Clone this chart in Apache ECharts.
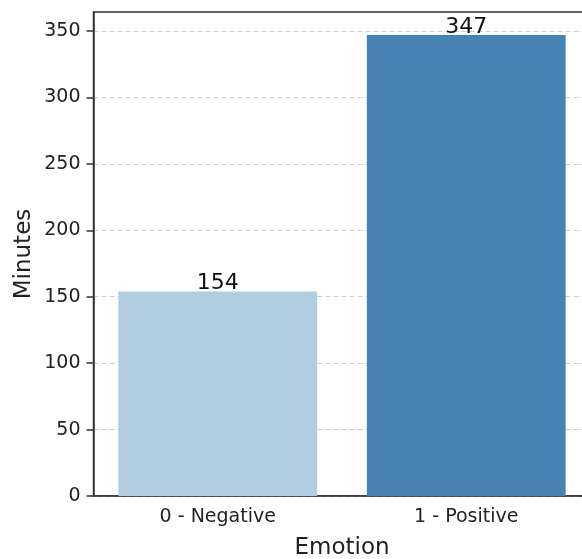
<!DOCTYPE html>
<html>
<head>
<meta charset="utf-8">
<script src="https://cdn.jsdelivr.net/npm/echarts@6/dist/echarts.min.js"></script>
<style>html,body{margin:0;padding:0;background:#fff;}#c{width:582px;height:559px;}</style>
</head>
<body>
<div id="c"></div>
<script>
const categories = ['0 - Negative', '1 - Positive'];
const minutes = [154, 347];
const barColors = ['#b3cde0', '#4682b4'];
const yTicks = [0, 50, 100, 150, 200, 250, 300, 350];

const chart = echarts.init(document.getElementById('c'), null, {renderer: 'canvas'});
const font = 'DejaVu Sans';
chart.setOption({
  animation: false,
  backgroundColor: '#fff',
  grid: {left: 93.5, top: 12, right: -8.5, bottom: 63, outerBoundsMode: 'none', containLabel: false, show: true, borderColor: '#333', borderWidth: 1.5, backgroundColor: 'transparent'},
  xAxis: {
    type: 'category',
    data: categories,
    name: 'Emotion',
    nameLocation: 'middle',
    nameGap: 41,
    nameMoveOverlap: false,
    nameTextStyle: {fontFamily: font, fontSize: 23, color: '#222'},
    axisLine: {lineStyle: {color: '#333', width: 1.5}},
    axisTick: {alignWithLabel: true, length: 7, lineStyle: {color: '#333', width: 1.5}},
    axisLabel: {fontFamily: font, fontSize: 19, color: '#222', margin: 12},
    splitLine: {show: false}
  },
  yAxis: {
    type: 'value',
    min: 0,
    max: 364.35,
    interval: 50,
    name: 'Minutes',
    nameLocation: 'middle',
    nameGap: 58,
    nameMoveOverlap: false,
    nameTextStyle: {fontFamily: font, fontSize: 23, color: '#222'},
    axisLine: {show: true, lineStyle: {color: '#333', width: 1.5}},
    axisTick: {show: true, length: 7, lineStyle: {color: '#333', width: 1.5}, customValues: yTicks},
    axisLabel: {fontFamily: font, fontSize: 19, color: '#222', margin: 13, customValues: yTicks},
    splitLine: {show: true, lineStyle: {color: '#cccccc', type: [5, 3], width: 1.2}}
  },
  series: [{
    type: 'bar',
    data: minutes.map((v, i) => ({value: v, itemStyle: {color: barColors[i]}})),
    barWidth: '80%',
    label: {show: true, position: 'top', distance: -3, fontFamily: font, fontSize: 22, color: '#111'}
  }]
});
</script>
</body>
</html>
